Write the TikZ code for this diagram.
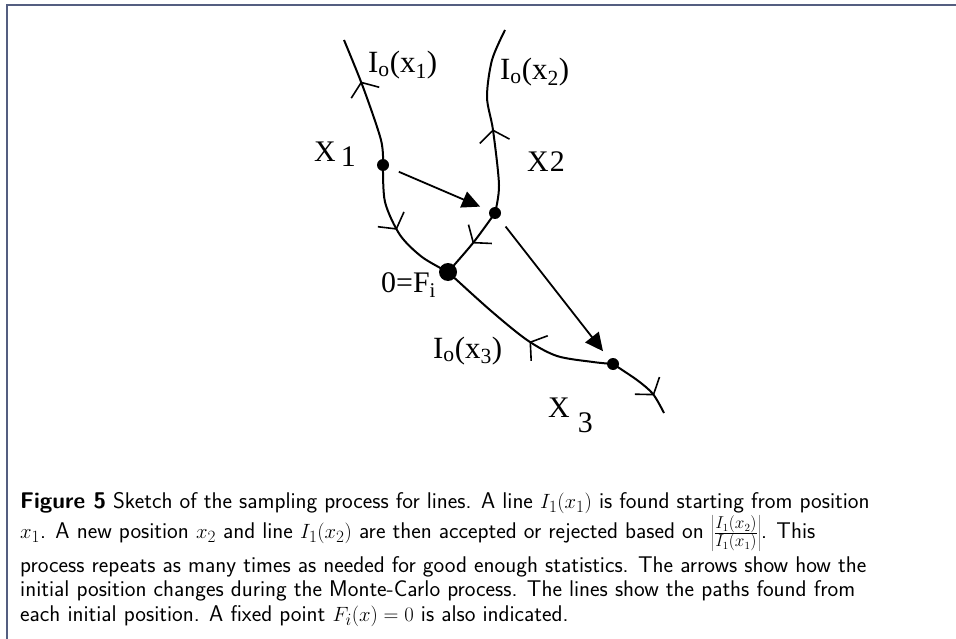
\documentclass[tikz,border=0pt]{standalone}
\usepackage{fontspec}
\usepackage{tikz}
\usetikzlibrary{arrows.meta,decorations.markings}
\newfontfamily\labelfont{Liberation Serif}
\definecolor{framegray}{RGB}{84,94,128}

\begin{document}
\begin{tikzpicture}[x=1bp, y=-1bp,
  dot/.style={circle, fill, inner sep=0pt, minimum size=12bp},
  fixdot/.style={dot, minimum size=18bp},
  curve/.style={line width=2bp},
  flow/.style={postaction={decorate}, decoration={markings, mark=at position #1 with {\arrow{Straight Barb[length=11bp,width=30bp,line width=1.6bp]}}}},
  jump/.style={-{Triangle[length=18bp,width=17bp]}, line width=1.8bp, shorten <=11bp, shorten >=10bp},
  lbl/.style={font=\labelfont\fontsize{30}{30}\selectfont, inner sep=0pt, anchor=base west},
  caption/.style={font=\sffamily\fontsize{22.8}{24.5}\selectfont, align=left, inner sep=0pt, anchor=north west}
]
\useasboundingbox (0,0) rectangle (956,639);
\draw[framegray, line width=1.6bp] (7,639) -- (7,5) -- (956,5);

% points on the lines
\node[dot] (x1) at (383,165) {};
\node[dot] (x2) at (495,213) {};
\node[dot] (x3) at (613,364) {};
\node[fixdot] (fix) at (448,272) {};
\coordinate (end1) at (344,40);
\coordinate (end2) at (505,30);
\coordinate (end3) at (664,413);

% lines found from each position
\draw[curve, flow=0.66] plot[smooth] coordinates {(x1.center) (381,140) (363,87) (end1)};
\draw[curve, flow=0.5] plot[smooth] coordinates {(x1.center) (385,202) (400,235) (422,257) (fix.center)};
\draw[curve, flow=0.45] plot[smooth] coordinates {(x2.center) (499,185) (493,130) (487,97) (492,60) (end2)};
\draw[curve, flow=0.5] plot[smooth] coordinates {(x2.center) (473,243) (fix.center)};
\draw[curve, flow=0.45] plot[smooth] coordinates {(x3.center) (593,362) (557,356) (527,340) (490,310) (fix.center)};
\draw[curve, flow=0.72] plot[smooth] coordinates {(x3.center) (637,380) (653,394) (end3)};

% moves of the initial position
\draw[jump] (x1) -- (x2);
\draw[jump] (x2) -- (x3);

% labels
\node[lbl] (lx1) at (314,162) {X\,\raisebox{-5bp}{1}};
\node[lbl] (lx2) at (527,172) {X\kern1bp2};
\node[lbl] (lx3) at (548,417) {X\hspace{8bp}\raisebox{-15bp}{3}};
\node[lbl] (lfix) at (381,292) {0=F\textsubscript{i}};
\node[lbl, font=\labelfont\fontsize{31}{31}\selectfont] (lI1) at (368,73) {I\textsubscript{o}(x\textsubscript{1})};
\node[lbl, font=\labelfont\fontsize{31}{31}\selectfont] (lI2) at (500,80) {I\textsubscript{o}(x\textsubscript{2})};
\node[lbl, font=\labelfont\fontsize{31}{31}\selectfont] (lI3) at (433,358) {I\textsubscript{o}(x\textsubscript{3})};

% caption
\node[caption] (cap) at (20,492) {\textbf{Figure 5} Sketch of the sampling process for lines. A line $I_1(x_1)$ is found starting from position\\[1bp]
$x_1$. A new position $x_2$ and line $I_1(x_2)$ are then accepted or rejected based on $\left|\frac{I_1(x_2)}{I_1(x_1)}\right|$. This\\[4bp]
process repeats as many times as needed for good enough statistics. The arrows show how the\\
initial position changes during the Monte-Carlo process. The lines show the paths found from\\
each initial position. A fixed point $F_i(x) = 0$ is also indicated.};
\end{tikzpicture}
\end{document}
